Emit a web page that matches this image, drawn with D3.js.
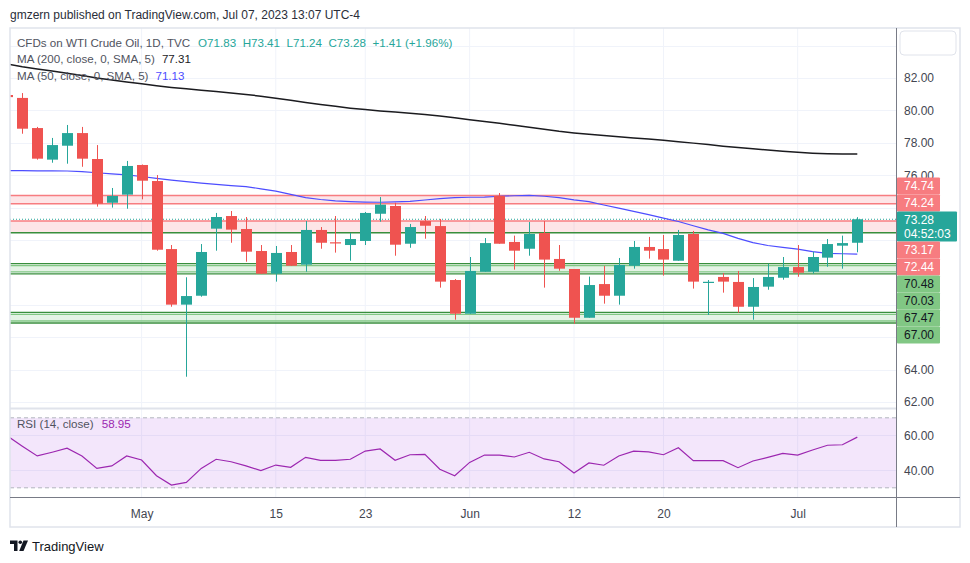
<!DOCTYPE html>
<html><head><meta charset="utf-8">
<script src="https://cdn.jsdelivr.net/npm/d3@7"></script>
<style>body{margin:0;background:#fff;} svg{display:block;font-family:"Liberation Sans",Arial,sans-serif;}</style>
</head><body><svg id="c" width="970" height="563"></svg>
<script>
// ---------- DATA ----------
const candleIdx = d3.range(-1, 57);
const opens  = [80.95,80.77,78.91,76.96,77.82,78.60,77.00,74.30,74.80,76.63,75.64,71.44,68.01,68.56,72.70,73.48,72.68,71.32,69.92,71.26,70.48,72.62,71.86,71.69,71.94,73.62,74.10,71.77,73.17,72.86,69.53,67.45,70.04,74.72,71.88,71.46,72.43,70.83,70.21,67.20,69.28,68.56,70.41,71.57,71.44,70.72,72.37,69.39,69.72,69.41,67.88,69.12,69.67,70.33,70.04,70.91,71.65,71.83];
const highs  = [81.40,81.07,78.98,78.30,79.10,78.98,77.86,75.21,76.88,76.66,76.01,71.69,69.70,71.75,73.67,73.79,73.42,71.69,71.63,71.69,73.17,72.80,73.48,72.43,73.73,74.65,74.30,72.99,73.48,73.30,69.59,70.95,72.12,74.90,72.27,73.11,73.17,71.69,70.21,69.74,70.40,70.89,71.94,72.19,72.31,72.62,72.56,69.53,69.96,70.09,69.65,70.54,70.95,71.69,71.28,72.06,72.27,73.41];
const lows   = [80.60,78.56,76.96,76.77,76.71,76.52,74.06,74.00,73.93,74.51,71.34,67.88,63.56,68.50,71.34,71.83,70.66,69.90,69.43,70.40,70.04,71.46,71.22,70.72,71.69,73.13,71.03,71.52,72.08,69.06,67.08,67.45,70.04,71.77,70.17,71.03,69.06,70.10,66.83,67.20,68.07,68.01,70.23,70.85,69.80,70.72,69.00,67.37,68.75,67.51,67.08,68.93,69.55,69.73,69.92,70.35,70.23,71.24];
const closes = [80.82,78.87,77.02,77.86,78.60,77.02,74.24,74.72,76.57,75.66,71.40,68.01,68.54,71.26,73.42,72.64,71.28,69.92,71.20,70.41,72.62,71.83,71.80,72.06,73.67,74.18,71.71,72.80,72.88,69.43,67.45,70.09,71.81,71.77,71.34,72.37,70.79,70.23,67.20,69.22,68.56,70.46,71.57,71.34,70.79,72.31,69.43,69.42,69.43,67.88,69.10,69.72,70.33,69.98,70.95,71.75,71.81,73.28];
const ma200  = [82.87,82.69,82.56,82.43,82.30,82.15,82.00,81.88,81.76,81.64,81.52,81.42,81.33,81.25,81.17,81.08,80.98,80.88,80.75,80.62,80.49,80.37,80.25,80.14,80.05,79.97,79.90,79.83,79.74,79.66,79.55,79.43,79.32,79.20,79.08,78.96,78.84,78.71,78.61,78.53,78.45,78.38,78.30,78.23,78.15,78.07,77.98,77.89,77.79,77.71,77.63,77.55,77.48,77.41,77.36,77.33,77.31,77.31];
const ma50   = [76.28,76.28,76.27,76.27,76.26,76.22,76.15,76.08,76.02,75.92,75.80,75.70,75.60,75.51,75.43,75.36,75.30,75.16,75.02,74.82,74.62,74.50,74.42,74.37,74.34,74.33,74.35,74.38,74.47,74.56,74.62,74.64,74.65,74.70,74.73,74.75,74.70,74.62,74.48,74.37,74.16,73.97,73.77,73.57,73.35,73.14,72.88,72.63,72.41,72.10,71.84,71.66,71.55,71.44,71.28,71.18,71.15,71.13];
const rsi    = [59.6,53.8,48.2,50.3,52.6,48.2,41.1,42.5,48.2,45.9,36.9,31.6,33.1,41.1,46.3,44.9,42.5,39.8,43.0,41.7,47.4,45.7,45.7,46.3,51.0,52.2,45.7,48.9,49.1,40.6,36.9,44.5,48.7,48.7,47.6,50.3,46.5,44.9,38.5,44.2,42.9,48.2,50.9,50.5,48.9,52.9,45.5,45.5,45.5,41.5,45.3,47.4,49.7,48.7,51.6,54.3,54.6,58.95];
const priceTicks = [62,64,66,68,70,72,74,76,78,80,82,84];
const rsiTicks = [40,60];
const dateTickIdx = [8,17,23,30,37,43,52];
const dateTickLabels = ["May","15","23","Jun","12","20","Jul"];
const resistanceZones = [[74.74,74.24],[73.17,72.44]];
const supportZones = [[70.48,70.03],[67.47,67.00]];
const lastPrice = 73.28, countdown = "04:52:03";
const headerText = "gmzern published on TradingView.com, Jul 07, 2023 13:07 UTC-4";
const titleText = "CFDs on WTI Crude Oil, 1D, TVC";
const ohlcText = ["O71.83","H73.41","L71.24","C73.28","+1.41 (+1.96%)"];
const maLegends = [["MA (200, close, 0, SMA, 5)","77.31"],["MA (50, close, 0, SMA, 5)","71.13"]];
const rsiLegend = ["RSI (14, close)","58.95"];

// ---------- LAYOUT ----------
const L = 10, R = 896, T = 28, RR = 960, B = 527;
const mainBottom = 408, rsiTop = 409, axisY = 497;
const UP = "#26a69a", DOWN = "#ef5350";

const svg = d3.select("#c");
const x = d3.scaleLinear().domain([-1, 56]).range([7.4, 857.3]);
const y = d3.scaleLinear().domain([62, 82]).range([402, 78]);
const yr = d3.scaleLinear().domain([30, 70]).range([487.8, 417.8]);

const defs = svg.append("defs");
defs.append("clipPath").attr("id","cm").append("rect").attr("x",L).attr("y",T).attr("width",R-L).attr("height",mainBottom-T);
defs.append("clipPath").attr("id","cr").append("rect").attr("x",L).attr("y",rsiTop).attr("width",R-L).attr("height",axisY-rsiTop);

// grid
const grid = svg.append("g").attr("stroke","#f0f3fa").attr("stroke-width",1);
grid.selectAll(".v").data(dateTickIdx).join("line")
  .attr("x1",d=>x(d)).attr("x2",d=>x(d)).attr("y1",T).attr("y2",axisY);
grid.selectAll(".h").data(priceTicks).join("line")
  .attr("x1",L).attr("x2",R).attr("y1",d=>Math.round(y(d))+0.5).attr("y2",d=>Math.round(y(d))+0.5)
  .attr("clip-path","url(#cm)");
grid.selectAll(".hr").data(rsiTicks).join("line")
  .attr("x1",L).attr("x2",R).attr("y1",d=>Math.round(yr(d))+0.5).attr("y2",d=>Math.round(yr(d))+0.5);

// main pane
const main = svg.append("g").attr("clip-path","url(#cm)");
resistanceZones.forEach((z,k)=>{
  main.append("rect").attr("x",L).attr("width",R-L).attr("y",y(z[0])).attr("height",y(z[1])-y(z[0])).attr("fill","rgba(242,54,69,0.13)");
  main.append("line").attr("x1",L).attr("x2",R).attr("y1",y(z[0])).attr("y2",y(z[0])).attr("stroke","#f77c80").attr("stroke-width",1.5);
  main.append("line").attr("x1",L).attr("x2",R).attr("y1",y(z[1])).attr("y2",y(z[1])).attr("stroke",k===1?"#388e3c":"#f77c80").attr("stroke-width",1.5);
});
supportZones.forEach(z=>{
  main.append("rect").attr("x",L).attr("width",R-L).attr("y",y(z[0])).attr("height",y(z[1])-y(z[0])).attr("fill","rgba(76,175,80,0.15)");
  [[y(z[0])-1,"#388e3c"],[y(z[0])+1,"#81c784"],[y(z[1]),"#81c784"],[y(z[1])+2,"#388e3c"]].forEach(([yy,c])=>{
    main.append("line").attr("x1",L).attr("x2",R).attr("y1",yy).attr("y2",yy).attr("stroke",c).attr("stroke-width",1.3);
  });
});
main.append("line").attr("x1",L).attr("x2",R).attr("y1",y(lastPrice)).attr("y2",y(lastPrice))
  .attr("stroke",UP).attr("stroke-width",1).attr("stroke-dasharray","1,2");

const lineGen = arr => d3.line().x((d,i)=>x(candleIdx[i])).y(d=>y(d))(arr);
main.append("path").attr("d",lineGen(ma200)).attr("fill","none").attr("stroke","#1b1b1f").attr("stroke-width",1.5);
main.append("path").attr("d",lineGen(ma50)).attr("fill","none").attr("stroke","#4d4dff").attr("stroke-width",1.2);

const candles = candleIdx.map((d,i)=>({i:d,o:opens[i],h:highs[i],l:lows[i],c:closes[i]}));
const cg = main.append("g");
cg.selectAll(".w").data(candles).join("line")
  .attr("x1",d=>Math.round(x(d.i))+0.5).attr("x2",d=>Math.round(x(d.i))+0.5)
  .attr("y1",d=>y(d.h)).attr("y2",d=>y(d.l))
  .attr("stroke",d=>d.c>=d.o?UP:DOWN).attr("stroke-width",1);
cg.selectAll(".b").data(candles).join("rect")
  .attr("x",d=>Math.round(x(d.i))-5).attr("width",11)
  .attr("y",d=>y(Math.max(d.o,d.c)))
  .attr("height",d=>Math.max(1.2,Math.abs(y(d.o)-y(d.c))))
  .attr("fill",d=>d.c>=d.o?UP:DOWN);

// RSI pane
const rp = svg.append("g").attr("clip-path","url(#cr)");
rp.append("rect").attr("x",L).attr("width",R-L).attr("y",yr(70)).attr("height",yr(30)-yr(70)).attr("fill","rgba(155,50,220,0.12)");
[70,30].forEach(v=>rp.append("line").attr("x1",L).attr("x2",R).attr("y1",yr(v)).attr("y2",yr(v))
  .attr("stroke","#b2b5be").attr("stroke-dasharray","4,3"));
rp.append("path").attr("d",d3.line().x((d,i)=>x(candleIdx[i])).y(d=>yr(d))(rsi))
  .attr("fill","none").attr("stroke","#9c27b0").attr("stroke-width",1.2);

// frame / axes lines
const fr = svg.append("g");
fr.append("rect").attr("x",L).attr("y",T).attr("width",RR-L).attr("height",B-T).attr("fill","none").attr("stroke","#e0e3eb").attr("stroke-width",1.5);
fr.append("line").attr("x1",L).attr("x2",R).attr("y1",mainBottom+0.5).attr("y2",mainBottom+0.5).attr("stroke","#e0e3eb").attr("stroke-width",2);
fr.append("line").attr("x1",L).attr("x2",RR).attr("y1",axisY+0.5).attr("y2",axisY+0.5).attr("stroke","#787b86").attr("stroke-width",1);
fr.append("line").attr("x1",R+0.5).attr("x2",R+0.5).attr("y1",T).attr("y2",B).attr("stroke","#787b86").attr("stroke-width",1);
fr.append("rect").attr("x",900).attr("y",31).attr("width",56).attr("height",24).attr("rx",4).attr("fill","none").attr("stroke","#e0e3eb");

// price labels stack (computed first so covered ticks can be hidden)
const labels = [
  {v:resistanceZones[0][0],t:"r"},{v:resistanceZones[0][1],t:"r"},
  {v:lastPrice,t:"cur"},
  {v:resistanceZones[1][0],t:"r"},{v:resistanceZones[1][1],t:"r"},
  {v:supportZones[0][0],t:"s"},{v:supportZones[0][1],t:"s"},
  {v:supportZones[1][0],t:"s"},{v:supportZones[1][1],t:"s"}];
let stackTop = y(labels[0].v) - 18;
labels.forEach(d=>{ d.h = d.t==="cur"?30:17; d.top = stackTop; stackTop += d.h; });
const stackStart = labels[0].top, stackEnd = stackTop;
const visibleTicks = priceTicks.filter(v=>v<=82 && !(y(v)-6 > stackStart && y(v)+6 < stackEnd));

const styleAxis = g => { g.select(".domain").remove(); g.selectAll("line").remove();
  g.selectAll("text").attr("fill","#434651").style("font-size","12px").style("font-family",'"Liberation Sans",Arial,sans-serif'); };
svg.append("g").attr("transform",`translate(${R},0)`)
  .call(d3.axisRight(y).tickValues(visibleTicks).tickFormat(d3.format(".2f")).tickSize(0).tickPadding(8))
  .call(styleAxis);
svg.append("g").attr("transform",`translate(${R},0)`)
  .call(d3.axisRight(yr).tickValues(rsiTicks).tickFormat(d3.format(".2f")).tickSize(0).tickPadding(8))
  .call(styleAxis);
svg.append("g").attr("transform",`translate(0,${axisY})`)
  .call(d3.axisBottom(x).tickValues(dateTickIdx).tickFormat((d,i)=>dateTickLabels[i]).tickSize(0).tickPadding(12))
  .call(styleAxis);

const lg = svg.append("g").style("font-size","12px");
labels.forEach(d=>{
  const w = d.t==="cur"?60:43;
  const fill = d.t==="cur"?UP:(d.t==="r"?"#f77c80":"#81c784");
  lg.append("rect").attr("x",R+1).attr("y",d.top).attr("width",w).attr("height",d.h).attr("fill",fill).attr("rx",1);
  const tc = d.t==="s"?"#131722":"#ffffff";
  if(d.t==="cur"){
    lg.append("text").attr("x",R+8).attr("y",d.top+12).attr("fill",tc).text(d3.format(".2f")(d.v));
    lg.append("text").attr("x",R+8).attr("y",d.top+26).attr("fill",tc).text(countdown);
  } else {
    lg.append("text").attr("x",R+8).attr("y",d.top+d.h/2+4.3).attr("fill",tc).text(d3.format(".2f")(d.v));
  }
});

// texts
svg.append("text").attr("x",10).attr("y",18.5).attr("fill","#2a2e39").style("font-size","12px").text(headerText);
const t1 = svg.append("text").attr("x",17).attr("y",46.5).style("font-size","11.6px");
t1.append("tspan").attr("fill","#50535e").text(titleText);
ohlcText.forEach((s,i)=>t1.append("tspan").attr("fill",UP).attr("dx",i===0?8:6.5).text(s));
maLegends.forEach((m,i)=>{
  const t = svg.append("text").attr("x",17).attr("y",63+17*i).style("font-size","11.6px");
  t.append("tspan").attr("fill","#50535e").text(m[0]);
  t.append("tspan").attr("fill",i===0?"#1b1b1f":"#4d4dff").attr("dx",7).text(m[1]);
});
const tr = svg.append("text").attr("x",17).attr("y",428).style("font-size","11.6px");
tr.append("tspan").attr("fill","#50535e").text(rsiLegend[0]);
tr.append("tspan").attr("fill","#9c27b0").attr("dx",8).text(rsiLegend[1]);

// TradingView logo
const lgo = svg.append("g").attr("fill","#131722");
lgo.append("path").attr("d","M10,540.5 h7.5 v10.5 h-3.5 v-7 h-4 z");
lgo.append("circle").attr("cx",20.3).attr("cy",542.3).attr("r",1.8);
lgo.append("path").attr("d","M23.5,540.5 h4.5 l-4.5,10.5 h-4.3 z");
svg.append("text").attr("x",32).attr("y",551).attr("fill","#131722").style("font-size","13px").text("TradingView");
</script></body></html>
